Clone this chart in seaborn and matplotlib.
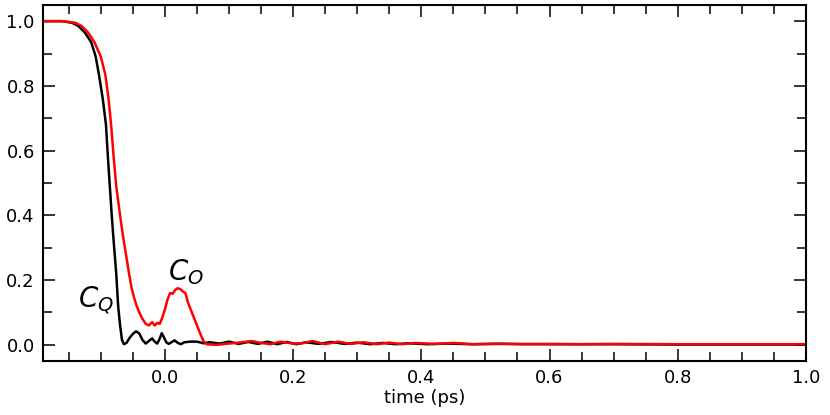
import numpy as np
import pandas as pd
import matplotlib
matplotlib.use("Agg")
import matplotlib.pyplot as plt
import seaborn as sns
from matplotlib.ticker import MultipleLocator

# ── Data ────────────────────────────────────────────
t_o = [-0.19, -0.16, -0.14, -0.13, -0.12, -0.11, -0.10, -0.093, -0.088, -0.084,
       -0.08, -0.076, -0.07, -0.065, -0.06, -0.056, -0.052, -0.048, -0.044, -0.04,
       -0.035, -0.03, -0.025, -0.02, -0.016, -0.012, -0.008, -0.004, 0.0, 0.004,
       0.008, 0.012, 0.016, 0.02, 0.024, 0.028, 0.032, 0.036, 0.04, 0.045,
       0.05, 0.055, 0.06, 0.065, 0.08, 0.10, 0.12, 0.135, 0.15, 0.165,
       0.18, 0.20, 0.215, 0.23, 0.25, 0.27, 0.29, 0.31, 0.33, 0.35,
       0.37, 0.39, 0.42, 0.45, 0.48, 0.52, 0.56, 0.60, 0.65, 0.70,
       0.80, 0.90, 1.00]
c_o = [1.0, 1.0, 0.995, 0.985, 0.965, 0.935, 0.89, 0.835, 0.76, 0.68,
       0.58, 0.49, 0.40, 0.33, 0.27, 0.22, 0.175, 0.145, 0.12, 0.10,
       0.08, 0.065, 0.06, 0.07, 0.06, 0.068, 0.065, 0.085, 0.11, 0.14,
       0.16, 0.158, 0.17, 0.175, 0.172, 0.165, 0.16, 0.13, 0.11, 0.085,
       0.06, 0.035, 0.012, 0.002, 0.0, 0.004, 0.008, 0.012, 0.006, 0.002,
       0.01, 0.004, 0.005, 0.012, 0.002, 0.01, 0.003, 0.008, 0.002, 0.007,
       0.002, 0.006, 0.003, 0.006, 0.002, 0.004, 0.002, 0.003, 0.002, 0.003,
       0.002, 0.002, 0.002]

t_q = [-0.19, -0.16, -0.145, -0.135, -0.125, -0.115, -0.108, -0.103, -0.097, -0.092,
       -0.089, -0.086, -0.083, -0.08, -0.076, -0.073, -0.07, -0.067, -0.064, -0.06,
       -0.055, -0.05, -0.045, -0.04, -0.035, -0.03, -0.025, -0.02, -0.016, -0.012,
       -0.008, -0.005, -0.002, 0.002, 0.006, 0.01, 0.015, 0.02, 0.025, 0.03,
       0.04, 0.05, 0.06, 0.07, 0.085, 0.10, 0.115, 0.13, 0.145, 0.16,
       0.175, 0.19, 0.205, 0.22, 0.24, 0.26, 0.28, 0.30, 0.32, 0.34,
       0.36, 0.38, 0.41, 0.44, 0.48, 0.52, 0.60, 0.70, 0.80, 1.00]
c_q = [1.0, 1.0, 0.995, 0.985, 0.965, 0.935, 0.89, 0.835, 0.76, 0.68,
       0.58, 0.49, 0.40, 0.32, 0.22, 0.12, 0.06, 0.015, 0.002, 0.006,
       0.022, 0.034, 0.042, 0.035, 0.015, 0.004, 0.012, 0.02, 0.01, 0.004,
       0.02, 0.036, 0.025, 0.008, 0.003, 0.008, 0.014, 0.006, 0.002, 0.008,
       0.01, 0.01, 0.005, 0.008, 0.004, 0.01, 0.003, 0.009, 0.003, 0.01,
       0.002, 0.009, 0.002, 0.008, 0.003, 0.009, 0.003, 0.007, 0.002, 0.006,
       0.002, 0.005, 0.002, 0.004, 0.002, 0.003, 0.002, 0.002, 0.001, 0.001]

df = pd.concat([
    pd.DataFrame({"t": t_q, "c": c_q, "series": "C_Q"}),
    pd.DataFrame({"t": t_o, "c": c_o, "series": "C_O"}),
])

# ── Plot ────────────────────────────────────────────
sns.set_style("ticks", {"axes.edgecolor": "black", "text.color": "black",
                        "axes.labelcolor": "black", "xtick.color": "black",
                        "ytick.color": "black"})
fig = plt.figure(figsize=(8.3, 4.15), dpi=100)
ax = fig.add_axes([0.052, 0.130, 0.919, 0.858])

sns.lineplot(data=df, x="t", y="c", hue="series", sort=False,
             palette={"C_Q": "black", "C_O": "#ff0000"},
             linewidth=1.8, legend=False, ax=ax)

ax.text(-0.107, 0.14, r"$C_Q$", fontsize=20, ha="center", va="center")
ax.text(0.033, 0.225, r"$C_O$", fontsize=20, ha="center", va="center")

ax.set_xlim(-0.19, 1.0)
ax.set_ylim(-0.05, 1.05)
ax.xaxis.set_major_locator(MultipleLocator(0.2))
ax.xaxis.set_minor_locator(MultipleLocator(0.05))
ax.yaxis.set_major_locator(MultipleLocator(0.2))
ax.yaxis.set_minor_locator(MultipleLocator(0.1))
ax.tick_params(which="both", direction="in", top=True, right=True,
               width=1.1, labelsize=13, colors="black")
ax.tick_params(which="major", length=8.5, pad=6)
ax.tick_params(which="minor", length=6.5)
for s in ax.spines.values():
    s.set_linewidth(1.5)
    s.set_color("black")
ax.set_xlabel("time (ps)", fontsize=13, labelpad=1, color="black")
ax.set_ylabel("")

fig.savefig("out.png", dpi=100)
